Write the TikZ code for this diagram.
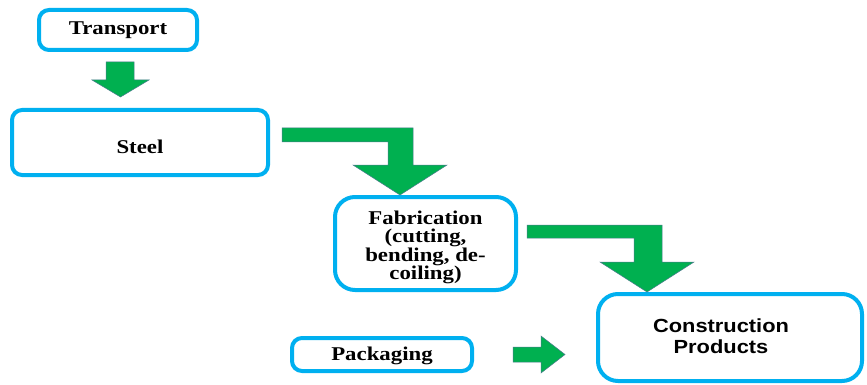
\documentclass[tikz,border=0pt]{standalone}
\usepackage{fontspec}
\setmainfont{Liberation Serif}[FakeStretch=1.17]
\newfontfamily\sansb{Liberation Sans}[FakeStretch=1.15]
\definecolor{cyanb}{HTML}{00B0F0}
\definecolor{greenb}{HTML}{00B050}
\definecolor{gedge}{HTML}{4A7A8C}
\begin{document}
\begin{tikzpicture}[x=1pt,y=-1pt,
  box/.style={draw=cyanb, line width=4pt, rounded corners=10pt, fill=white,
    align=center, inner sep=0pt},
  serlabel/.style={align=center, inner sep=0pt,
    font=\fontsize{19.5}{18.4}\selectfont\bfseries},
  garrow/.style={fill=greenb, draw=gedge, line width=0.5pt, line join=miter},
  sanslabel/.style={align=center, inner sep=0pt,
    font=\fontsize{19}{21}\selectfont\sansb\bfseries}]
\useasboundingbox (0,0) rectangle (867,385);
\fill[white] (0,0) rectangle (867,385);
% boxes
\node[box, minimum width=158pt, minimum height=40pt,
  label={[serlabel, yshift=-0.5pt]center:Transport}] (transport) at (118,30) {};
\node[box, minimum width=256pt, minimum height=65pt,
  label={[serlabel, yshift=-4pt]center:Steel}] (steel) at (140,142.5) {};
\node[box, rounded corners=20pt, minimum width=181pt, minimum height=93pt,
  label={[serlabel, yshift=-4pt]center:Fabrication\\(cutting,\\bending, de-\\coiling)}] (fab) at (425.5,243.5) {};
\node[box, rounded corners=20pt, minimum width=264pt, minimum height=87pt,
  label={[sanslabel, xshift=-9pt, yshift=1pt]center:Construction\\Products}] (cons) at (730,337.5) {};
\node[box, minimum width=180pt, minimum height=33pt,
  label={[serlabel, yshift=-1pt]center:Packaging}] (pack) at (382,354.5) {};
% block arrows
\draw[garrow] (106,62) -- (134,62) -- (134,80) -- (149,80) -- (120.5,97) -- (92,80) -- (106,80) -- cycle;
\draw[garrow] (282,128) -- (413,128) -- (413,165) -- (447,165) -- (400,195) -- (353,165)
  -- (388,165) -- (388,142) -- (282,142) -- cycle;
\draw[garrow] (527,225) -- (662,225) -- (662,262) -- (694,262) -- (647,292) -- (600,262)
  -- (634,262) -- (634,238) -- (527,238) -- cycle;
\draw[garrow] (513,347) -- (541,347) -- (541,336) -- (565,354.5) -- (541,373) -- (541,362)
  -- (513,362) -- cycle;
\end{tikzpicture}
\end{document}
